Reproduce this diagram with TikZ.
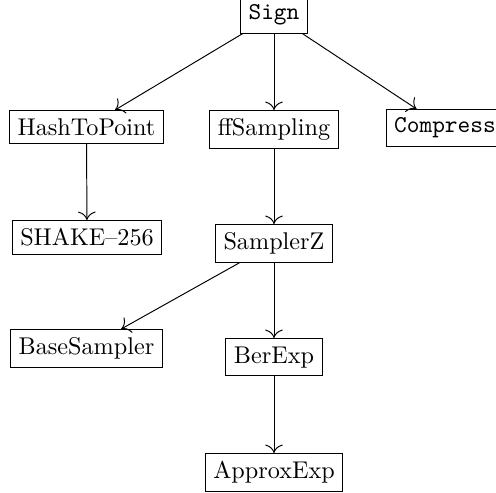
\documentclass[tikz,border=0pt]{standalone}
\usetikzlibrary{arrows.meta}
\begin{document}
\begin{tikzpicture}[x=0.4132pt,y=-0.4132pt,
  fn/.style={draw, anchor=north},
  call/.style={-{To[scale=1.4]}}]
\clip (0,0) rectangle (496,493);
\useasboundingbox (0,0) rectangle (496,493);
% call tree of the signing routine
\node[fn] (sign) at (274,-4) {\texttt{Sign}};
\node[fn] (hash) at (86.5,110) {HashToPoint};
\node[fn] (ffs)  at (274,110) {ffSampling};
\node[fn] (comp) at (445,109) {\texttt{Compress}};
\node[fn] (shake) at (87,220) {SHAKE--256};
\node[fn] (sz)   at (274,224) {SamplerZ};
\node[fn] (base) at (86.5,329) {BaseSampler};
\node[fn] (ber)  at (274,338) {BerExp};
\node[fn] (apx)  at (274,453) {ApproxExp};
\draw[call] (sign) -- (hash);
\draw[call] (sign) -- (ffs);
\draw[call] (sign) -- (comp);
\draw[call] (hash) -- (shake);
\draw[call] (ffs) -- (sz);
\draw[call] (sz) -- (base);
\draw[call] (sz) -- (ber);
\draw[call] (ber) -- (apx);
\end{tikzpicture}
\end{document}
